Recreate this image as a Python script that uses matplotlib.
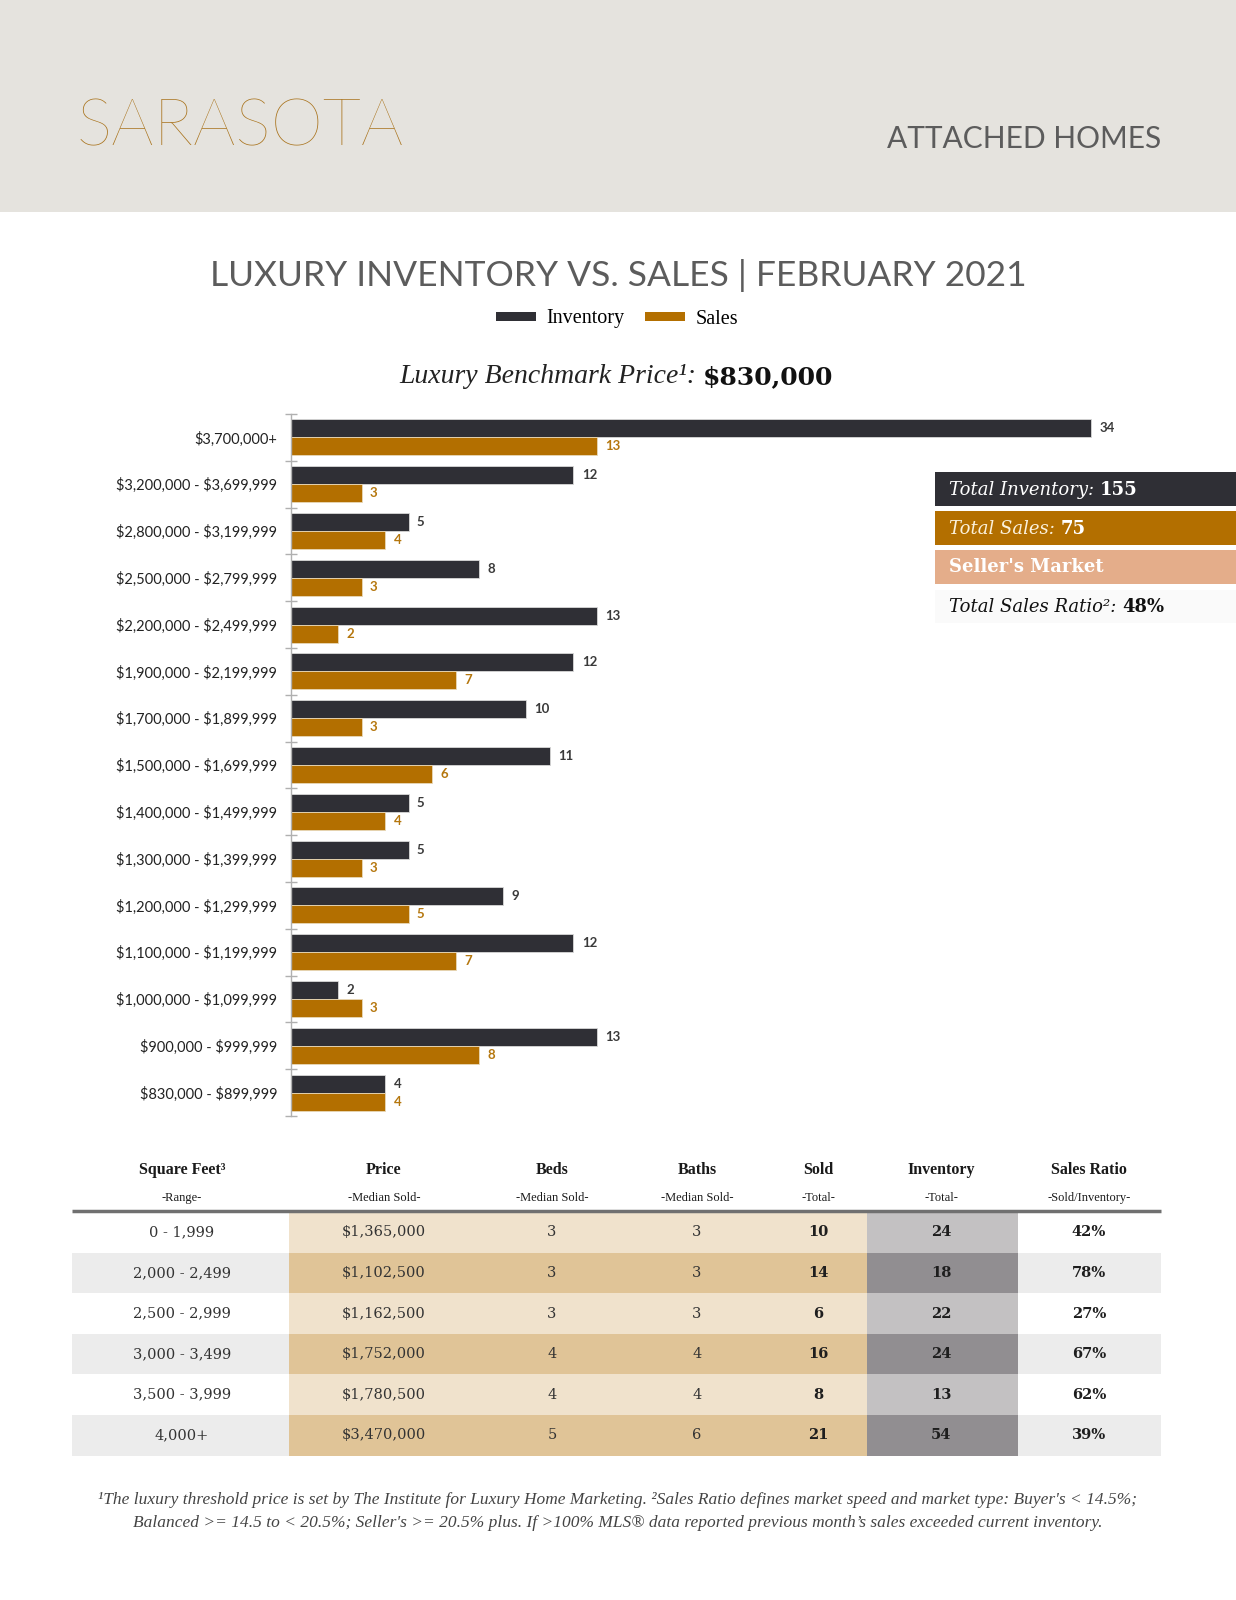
import matplotlib
matplotlib.use("Agg")
import matplotlib.pyplot as plt
from matplotlib.patches import Rectangle, Patch

plt.rcParams["text.parse_math"] = False

# ---------------- data ----------------
categories = ["$3,700,000+", "$3,200,000 - $3,699,999", "$2,800,000 - $3,199,999",
              "$2,500,000 - $2,799,999", "$2,200,000 - $2,499,999", "$1,900,000 - $2,199,999",
              "$1,700,000 - $1,899,999", "$1,500,000 - $1,699,999", "$1,400,000 - $1,499,999",
              "$1,300,000 - $1,399,999", "$1,200,000 - $1,299,999", "$1,100,000 - $1,199,999",
              "$1,000,000 - $1,099,999", "$900,000 - $999,999", "$830,000 - $899,999"]
inventory = [34, 12, 5, 8, 13, 12, 10, 11, 5, 5, 9, 12, 2, 13, 4]
sales = [13, 3, 4, 3, 2, 7, 3, 6, 4, 3, 5, 7, 3, 8, 4]

total_inventory = "155"
total_sales = "75"
market_type = "Seller's Market"
total_ratio = "48%"
benchmark = "$830,000"

tbl_headers = ["Square Feet³", "Price", "Beds", "Baths", "Sold", "Inventory", "Sales Ratio"]
tbl_sub = ["-Range-", "-Median Sold-", "-Median Sold-", "-Median Sold-", "-Total-", "-Total-", "-Sold/Inventory-"]
sqft_range = ["0 - 1,999", "2,000 - 2,499", "2,500 - 2,999", "3,000 - 3,499", "3,500 - 3,999", "4,000+"]
med_price = ["$1,365,000", "$1,102,500", "$1,162,500", "$1,752,000", "$1,780,500", "$3,470,000"]
med_beds = ["3", "3", "3", "4", "4", "5"]
med_baths = ["3", "3", "3", "4", "4", "6"]
sold_total = ["10", "14", "6", "16", "8", "21"]
inv_total = ["24", "18", "22", "24", "13", "54"]
sales_ratio = ["42%", "78%", "27%", "67%", "62%", "39%"]

footnote1 = ("¹The luxury threshold price is set by The Institute for Luxury Home Marketing. "
             "²Sales Ratio defines market speed and market type: Buyer's < 14.5%;")
footnote2 = ("Balanced >= 14.5 to < 20.5%; Seller's >= 20.5% plus. If >100% MLS® data "
             "reported previous month’s sales exceeded current inventory.")

# ---------------- style ----------------
W, H = 1236, 1600
INV_C = "#2f2f35"
SAL_C = "#b36f00"
GOLD = "#a9731c"

fig = plt.figure(figsize=(W / 100, H / 100), dpi=100)
fig.patch.set_facecolor("white")

# overlay axes in pixel coordinates
ov = fig.add_axes([0, 0, 1, 1], zorder=0)
ov.set_xlim(0, W)
ov.set_ylim(H, 0)
ov.axis("off")

# header band
ov.add_patch(Rectangle((0, 0), W, 212, facecolor="#e5e3de", edgecolor="none"))
ov.text(77, 146, "SARASOTA", fontsize=48, family="Lato", fontweight="light",
        color=GOLD, ha="left", va="baseline")
ov.text(1161, 148, "ATTACHED HOMES", fontsize=21.5, family="Lato", fontweight="normal",
        color="#5c5c5c", ha="right", va="baseline")

# title
ov.text(618, 286, "LUXURY INVENTORY VS. SALES | FEBRUARY 2021", fontsize=25.5, family="Lato",
        fontweight="normal", color="#5c5c5c", ha="center", va="baseline")

# legend
handles = [Patch(facecolor=INV_C, edgecolor="none"), Patch(facecolor=SAL_C, edgecolor="none")]
fig.legend(handles, ["Inventory", "Sales"], loc="center", bbox_to_anchor=(617 / W, 1 - 319 / H),
           ncol=2, frameon=False, handlelength=2.0, handleheight=0.35, handletextpad=0.5,
           columnspacing=1.0, prop={"family": "Liberation Serif", "size": 14.5})

# benchmark
t1 = ov.text(399, 383, "Luxury Benchmark Price¹: ", fontsize=20, family="Liberation Serif",
             style="italic", color="#222222", ha="left", va="baseline")
ov.annotate(benchmark, xy=(1, 0), xycoords=t1, fontsize=18, family="DejaVu Serif",
            fontweight="bold", color="#111111", ha="left", va="bottom")

# ---------------- bar chart ----------------
top_px, bot_px, left_px = 414, 1116, 291
unit_px = 23.53
ax = fig.add_axes([left_px / W, 1 - bot_px / H, (W - left_px) / W, (bot_px - top_px) / H], zorder=2)
ax.patch.set_alpha(0)
n = len(categories)
ys = list(range(n))
bh = 0.385
ax.barh([y - bh / 2 for y in ys], inventory, height=bh, color=INV_C, edgecolor="#d8d8d8", linewidth=0.6)
ax.barh([y + bh / 2 for y in ys], sales, height=bh, color=SAL_C, edgecolor="#e8d8b8", linewidth=0.6)
ax.set_xlim(0, (W - left_px) / unit_px)
ax.set_ylim(n - 0.5, -0.5)
for s in ["top", "right", "bottom"]:
    ax.spines[s].set_visible(False)
ax.spines["left"].set_color("#b0b0b0")
ax.spines["left"].set_linewidth(1.0)
ax.set_xticks([])
ax.set_yticks(ys)
ax.set_yticklabels(categories, fontsize=10.5, family="Lato", color="#222222")
ax.tick_params(axis="y", which="major", length=0, pad=10)
ax.set_yticks([y - 0.5 for y in range(n + 1)], minor=True)
ax.tick_params(axis="y", which="minor", length=8, direction="inout", color="#b0b0b0", width=1)

for y, v in zip(ys, inventory):
    ax.annotate(str(v), xy=(v, y - bh / 2), xytext=(6, 0), textcoords="offset points",
                ha="left", va="center", fontsize=9.5, family="Lato", fontweight="bold", color="#3a3a3a")
for y, v in zip(ys, sales):
    ax.annotate(str(v), xy=(v, y + bh / 2), xytext=(6, 0), textcoords="offset points",
                ha="left", va="center", fontsize=9.5, family="Lato", fontweight="bold", color="#b5770e")

# ---------------- side boxes ----------------
ov2 = fig.add_axes([0, 0, 1, 1], zorder=3)
ov2.set_xlim(0, W)
ov2.set_ylim(H, 0)
ov2.axis("off")
boxes = [(472, 506, INV_C), (511, 545, SAL_C), (550, 584, "#e4ad8a"), (590, 623, "#fafafa")]
for (y0, y1, c) in boxes:
    ov2.add_patch(Rectangle((935, y0), W - 935, y1 - y0, facecolor=c, edgecolor="none"))

def two_part(y, a, b, ca, cb):
    t = ov2.text(949, y, a, fontsize=13, family="DejaVu Serif", style="italic",
                 color=ca, ha="left", va="center")
    ov2.annotate(b, xy=(1, 0), xycoords=t, fontsize=13, family="DejaVu Serif",
                 fontweight="bold", color=cb, ha="left", va="bottom")

two_part(490, "Total Inventory: ", total_inventory, "white", "white")
two_part(529, "Total Sales: ", total_sales, "#fbf1dc", "white")
ov2.text(949, 567, market_type, fontsize=13, family="DejaVu Serif", fontweight="bold",
         color="white", ha="left", va="center")
two_part(607, "Total Sales Ratio²: ", total_ratio, "#111111", "#111111")

# ---------------- table ----------------
col_x = [182, 384, 552, 697, 818, 941, 1089]
row_top = 1212
row_h = 40.6
t_left, t_right = 72, 1161
beige_l, beige_r = 289, 867
inv_l, inv_r = 867, 1018

for i, h in enumerate(tbl_headers):
    ov.text(col_x[i], 1170, h, fontsize=11.5, family="Liberation Serif", fontweight="bold",
            color="#1a1a1a", ha="center", va="center")
    ov.text(col_x[i], 1198, tbl_sub[i], fontsize=9, family="Liberation Serif",
            color="#1a1a1a", ha="center", va="center")

columns = [sqft_range, med_price, med_beds, med_baths, sold_total, inv_total, sales_ratio]
bold_cols = {4, 5, 6}
for r in range(len(sqft_range)):
    y0 = row_top + r * row_h
    even = (r % 2 == 1)
    outer = "#ececec" if even else "white"
    beige = "#e0c497" if even else "#f0e2cc"
    grey = "#918e91" if even else "#c3c1c2"
    ov.add_patch(Rectangle((t_left, y0), t_right - t_left, row_h, facecolor=outer, edgecolor="none"))
    ov.add_patch(Rectangle((beige_l, y0), beige_r - beige_l, row_h, facecolor=beige, edgecolor="none"))
    ov.add_patch(Rectangle((inv_l, y0), inv_r - inv_l, row_h, facecolor=grey, edgecolor="none"))
    for c, col in enumerate(columns):
        ov.text(col_x[c], y0 + row_h / 2, col[r], fontsize=10.5, family="DejaVu Serif",
                fontweight="bold" if c in bold_cols else "normal",
                color="#1e1e1e" if c in bold_cols else "#333333", ha="center", va="center")

ov.plot([t_left, t_right], [1211, 1211], color="#707070", linewidth=2.5, solid_capstyle="butt")

# footnotes
ov.text(618, 1500, footnote1, fontsize=12.5, family="Liberation Serif", style="italic",
        color="#444444", ha="center", va="center")
ov.text(618, 1523, footnote2, fontsize=12.5, family="Liberation Serif", style="italic",
        color="#444444", ha="center", va="center")

fig.savefig("out.png", dpi=100)
